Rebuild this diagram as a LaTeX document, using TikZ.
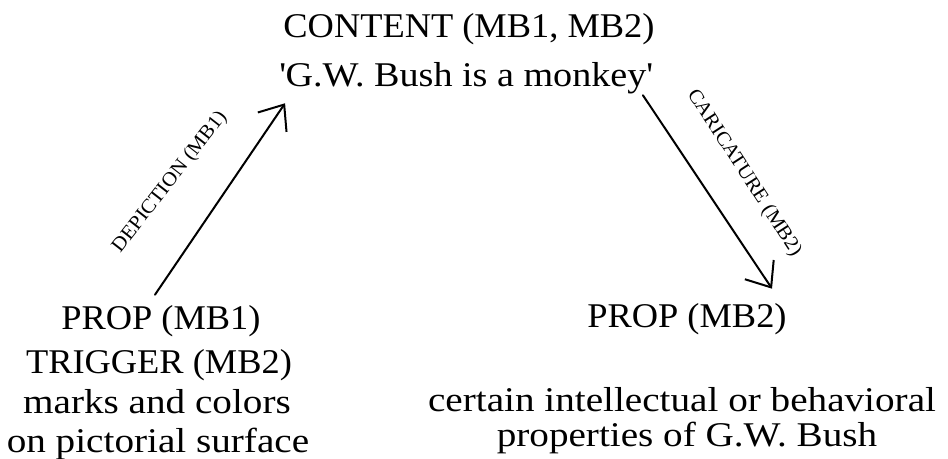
\documentclass[tikz,border=0pt]{standalone}
\usepackage{fontspec}
\setmainfont{Liberation Serif}[FakeStretch=1.05]
% a broader cut for the lines set in small letters
\newfontfamily\broadserif{Liberation Serif}[FakeStretch=1.13]
\newfontfamily\midserif{Liberation Serif}[FakeStretch=1.1]
\usetikzlibrary{arrows.meta,calc}

\begin{document}
\begin{tikzpicture}[x=0.75pt,y=-0.75pt,
  big/.style={font=\fontsize{26}{30}\selectfont, inner sep=0pt, anchor=base},
  bigwide/.style={big, font=\fontsize{26}{30}\broadserif},
  bigmid/.style={big, font=\fontsize{26}{30}\midserif},
  small/.style={font=\fontsize{15}{18}\selectfont, inner sep=0pt},
  link/.style={line width=1.5pt, line cap=round,
    -{Straight Barb[length=16pt,width=26pt,line width=1.5pt]}}]
\useasboundingbox (0,0) rectangle (948,458);

% the shared content
\node[big]    (content) at (469,37) {CONTENT (MB1, MB2)};
\node[bigmid] (claim)   at (466,86) {\textquotesingle G.W. Bush is a monkey\textquotesingle};

% the prop of the depiction
\node[big]     (propA)   at (161,329) {PROP (MB1)};
\node[big]     (trigger) at (159,373) {TRIGGER (MB2)};
\node[bigwide] (marks)   at (157,413) {marks and colors};
\node[bigwide] (surface) at (158,452) {on pictorial surface};

% the prop of the caricature
\node[big]     (propB)   at (687,327) {PROP (MB2)};
\node[bigwide] (certain) at (682,411) {certain intellectual or behavioral};
\node[bigwide] (props)   at (687,446) {properties of G.W. Bush};

% connectors
\draw[link] ($(propA.north)+(-6,-10)$) -- ($(claim.south west)+(6,9.5)$);
\draw[link] ($(claim.south east)+(-10,1.5)$) -- ($(propB.north)+(85,-14)$);

% connector labels
\node[small, rotate=52]  (depict) at (170,182) {DEPICTION (MB1)};
\node[small, rotate=-57] (carica) at (744,173) {CARICATURE (MB2)};
\end{tikzpicture}
\end{document}
